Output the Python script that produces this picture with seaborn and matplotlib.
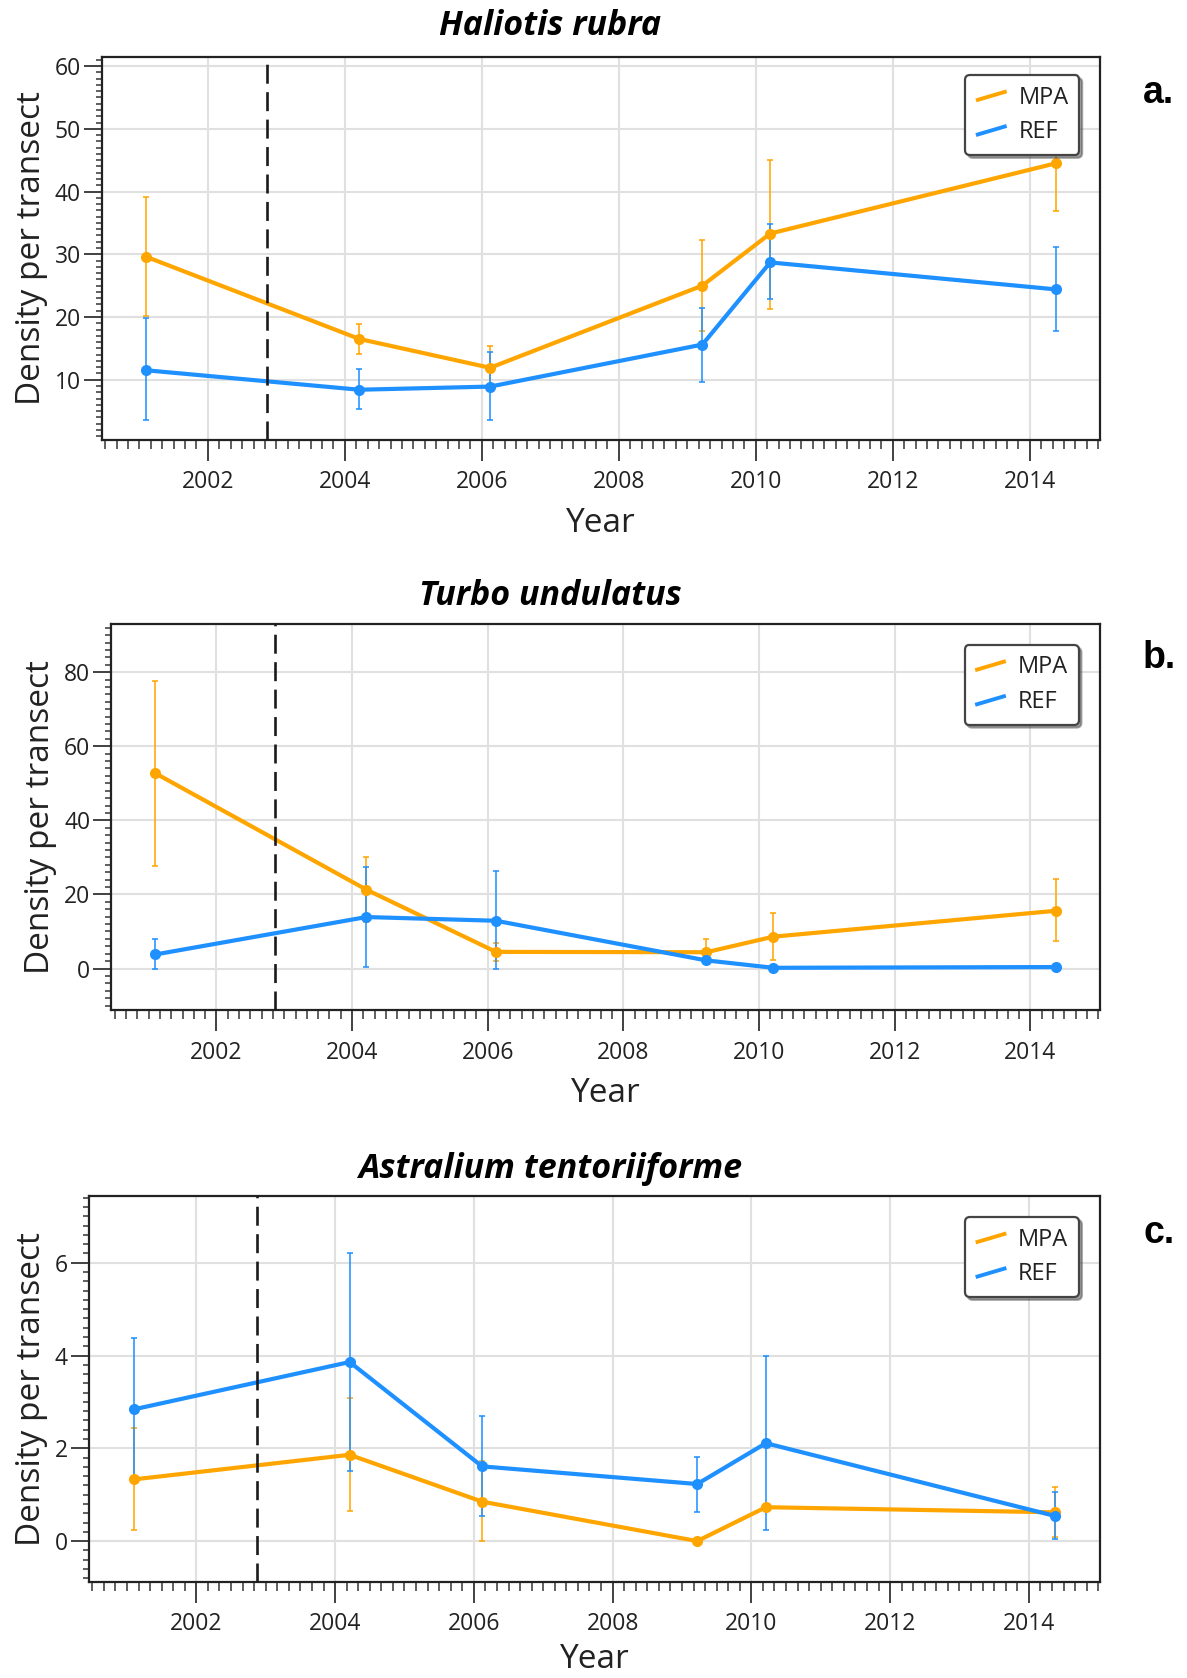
import numpy as np
import pandas as pd
import matplotlib
matplotlib.use("Agg")
import matplotlib.pyplot as plt
import seaborn as sns
from matplotlib.ticker import MultipleLocator, FixedLocator
from matplotlib.legend_handler import HandlerBase
from matplotlib.lines import Line2D

# ---------------- data ----------------
sites = ["MPA", "REF"]
years = [2001.10, 2004.21, 2006.12, 2009.22, 2010.21, 2014.38]

titles = ["Haliotis rubra", "Turbo undulatus", "Astralium tentoriiforme"]
panel_letters = ["a.", "b.", "c."]

# Haliotis rubra
mpa_a = [29.6, 16.5, 11.9, 25.0, 33.3, 44.5]
mpa_a_lo = [20.1, 14.1, 8.5, 17.7, 21.3, 36.9]
mpa_a_hi = [39.2, 18.9, 15.3, 32.2, 45.1, 52.1]
ref_a = [11.5, 8.4, 8.9, 15.6, 28.7, 24.4]
ref_a_lo = [3.5, 5.3, 3.5, 9.7, 22.8, 17.7]
ref_a_hi = [19.8, 11.7, 14.4, 21.5, 34.8, 31.1]

# Turbo undulatus
mpa_b = [52.7, 21.3, 4.5, 4.4, 8.6, 15.6]
mpa_b_lo = [27.7, 12.6, 2.0, 1.5, 2.2, 7.4]
mpa_b_hi = [77.7, 30.0, 7.0, 8.1, 15.0, 24.2]
ref_b = [3.8, 13.9, 12.9, 2.2, 0.2, 0.4]
ref_b_lo = [0.0, 0.4, 0.0, 1.2, 0.0, 0.0]
ref_b_hi = [7.9, 27.4, 26.2, 3.2, 0.4, 0.8]

# Astralium tentoriiforme
mpa_c = [1.33, 1.86, 0.85, 0.0, 0.73, 0.62]
mpa_c_lo = [0.23, 0.65, 0.0, 0.0, 0.73, 0.09]
mpa_c_hi = [2.44, 3.08, 1.72, 0.0, 0.73, 1.16]
ref_c = [2.84, 3.86, 1.61, 1.23, 2.11, 0.54]
ref_c_lo = [1.32, 1.52, 0.55, 0.63, 0.23, 0.05]
ref_c_hi = [4.38, 6.21, 2.69, 1.82, 3.98, 1.05]

mpa_start = 2002.87

panels = [
    (mpa_a, mpa_a_lo, mpa_a_hi, ref_a, ref_a_lo, ref_a_hi),
    (mpa_b, mpa_b_lo, mpa_b_hi, ref_b, ref_b_lo, ref_b_hi),
    (mpa_c, mpa_c_lo, mpa_c_hi, ref_c, ref_c_lo, ref_c_hi),
]

# ---------------- style ----------------
sns.set_theme(style="white")
plt.rcParams['font.family'] = ['Open Sans', 'DejaVu Sans']

colors = {"MPA": "#FFA500", "REF": "#1E90FF"}

W, H = 1187, 1678
fig = plt.figure(figsize=(W / 100, H / 100), dpi=100)


def rect(l, t, r, b):
    return [l / W, 1 - b / H, (r - l) / W, (b - t) / H]


axes_rects = [
    rect(101.7, 56.7, 1100.3, 439.9),
    rect(111.3, 624.0, 1100.3, 1010.4),
    rect(88.8, 1195.5, 1100.3, 1581.9),
]
ylims = [(0.4, 61.5), (-11.3, 93.0), (-0.88, 7.45)]
ymajor = [10, 20, 2]
yminor = [1, 2, 0.2]
title_y = [26, 596, 1169]
letter_y = [93, 658, 1233]
xlabelpad = [9, 9, 5]
leg_anchor = [(0.979, 0.952), (0.978, 0.946), (0.979, 0.944)]


class SlantHandler(HandlerBase):
    def create_artists(self, legend, orig_handle, xdescent, ydescent,
                       width, height, fontsize, trans):
        ln = Line2D([-xdescent, -xdescent + width],
                    [-ydescent + height * 0.2, -ydescent + height * 0.75],
                    color=orig_handle.get_color(),
                    lw=orig_handle.get_linewidth(),
                    solid_capstyle='butt', transform=trans)
        return [ln]


for i, (vals, rr) in enumerate(zip(panels, axes_rects)):
    mpa, mlo, mhi, ref, rlo, rhi = vals
    ax = fig.add_axes(rr)
    df = pd.DataFrame({
        "Year": years * 2,
        "Density": list(mpa) + list(ref),
        "Site": ["MPA"] * len(years) + ["REF"] * len(years),
    })

    # grid
    ax.set_axisbelow(True)
    ax.grid(True, which='major', color='#e0e0e0', linewidth=1.5)

    # error bars
    for site, v, lo, hi in (("MPA", mpa, mlo, mhi), ("REF", ref, rlo, rhi)):
        v = np.array(v); lo = np.array(lo); hi = np.array(hi)
        ax.errorbar(years, v, yerr=[v - lo, hi - v], fmt='none',
                    ecolor=colors[site], elinewidth=1.4, capsize=2.5,
                    capthick=1.4, alpha=0.8, zorder=2)

    sns.lineplot(data=df, x="Year", y="Density", hue="Site",
                 hue_order=sites, palette=colors, marker='o',
                 markersize=8, markeredgewidth=0, linewidth=3.0,
                 estimator=None, sort=False, legend=False, ax=ax, zorder=3)

    ax.axvline(mpa_start, color='#1a1a1a', lw=1.9, dashes=(7.2, 3.2), zorder=4)

    ax.set_xlim(2000.45, 2015.03)
    ax.set_ylim(*ylims[i])
    ax.xaxis.set_major_locator(FixedLocator(list(range(2002, 2015, 2))))
    ax.xaxis.set_minor_locator(MultipleLocator(1 / 6))
    ax.yaxis.set_major_locator(MultipleLocator(ymajor[i]))
    ax.yaxis.set_minor_locator(MultipleLocator(yminor[i]))

    ax.tick_params(axis='x', which='major', direction='out', length=15,
                   width=1.3, color='#333333', pad=7, labelsize=16.5,
                   labelcolor='#222222', bottom=True)
    ax.tick_params(axis='x', which='minor', direction='out', length=6.5,
                   width=1.2, color='#444444', bottom=True)
    ax.tick_params(axis='y', which='major', direction='out', length=13,
                   width=1.3, color='#333333', pad=2, labelsize=16.5,
                   labelcolor='#222222', left=True)
    ax.tick_params(axis='y', which='minor', direction='out', length=4.5,
                   width=1.2, color='#444444', left=True)

    for sp in ax.spines.values():
        sp.set_color('#222222')
        sp.set_linewidth(1.6)
        sp.set_visible(True)

    ax.set_xlabel("Year", fontsize=24, color='#222222', labelpad=xlabelpad[i])
    ax.set_ylabel("Density per transect", fontsize=24, color='#222222',
                  labelpad=5)

    handles = [Line2D([], [], color=colors[s], lw=2.8) for s in sites]
    leg = ax.legend(handles, sites, loc='upper right',
                    bbox_to_anchor=leg_anchor[i], borderaxespad=0,
                    fontsize=17, frameon=True, fancybox=True, shadow=True,
                    handler_map={Line2D: SlantHandler()},
                    handlelength=1.3, handletextpad=0.5, labelspacing=0.45,
                    borderpad=0.45)
    fr = leg.get_frame()
    fr.set_edgecolor('#444444')
    fr.set_linewidth(1.6)
    fr.set_facecolor('white')
    fr.set_alpha(1)
    for t in leg.get_texts():
        t.set_color('#222222')

    fig.text(550 / W, 1 - title_y[i] / H, titles[i], ha='center', va='center',
             fontsize=24.5, fontweight='bold', fontstyle='italic', color='black')
    fig.text(1159 / W, 1 - letter_y[i] / H, panel_letters[i], ha='center',
             va='center', fontsize=27, fontweight='bold', color='black',
             family=['Liberation Sans', 'DejaVu Sans'])

fig.savefig("out.png", dpi=100)
